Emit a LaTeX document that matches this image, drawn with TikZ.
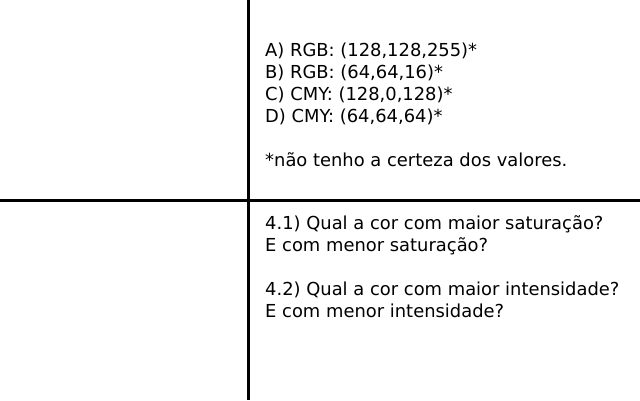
\documentclass[tikz,border=0pt]{standalone}
\usepackage{fontspec}
\setmainfont{DejaVu Sans}
\usetikzlibrary{positioning}
\begin{document}
\begin{tikzpicture}[x=1pt,y=-1pt]
	\tikzset{
		divider/.style={line width=3pt},
		textline/.style={anchor=base west,inner sep=0pt,font=\fontsize{17.9}{22}\selectfont}
	}
	%Canvas
	\useasboundingbox (0,0) rectangle (640,400);
	%Dividing lines
	\coordinate (vtop) at (248,0);
	\coordinate (vbottom) at (248,400);
	\coordinate (hleft) at (0,200);
	\coordinate (hright) at (640,200);
	\draw[divider] (vtop) -- (vbottom);
	\draw[divider] (hleft) -- (hright);
	%Upper right text
	\node [textline] (valueA) at (265,56) {A) RGB: (128,128,255)*};
	\node [textline] (valueB) at (265,78) {B) RGB: (64,64,16)*};
	\node [textline] (valueC) at (265,100) {C) CMY: (128,0,128)*};
	\node [textline] (valueD) at (265,122) {D) CMY: (64,64,64)*};
	\node [textline] (note) at (265,166) {*não tenho a certeza dos valores.};
	%Lower right text
	\node [textline] (question1) at (265,229) {4.1) Qual a cor com maior saturação?};
	\node [textline] (question1b) at (265,251) {E com menor saturação?};
	\node [textline] (question2) at (265,295) {4.2) Qual a cor com maior intensidade?};
	\node [textline] (question2b) at (265,317) {E com menor intensidade?};
\end{tikzpicture}
\end{document}
